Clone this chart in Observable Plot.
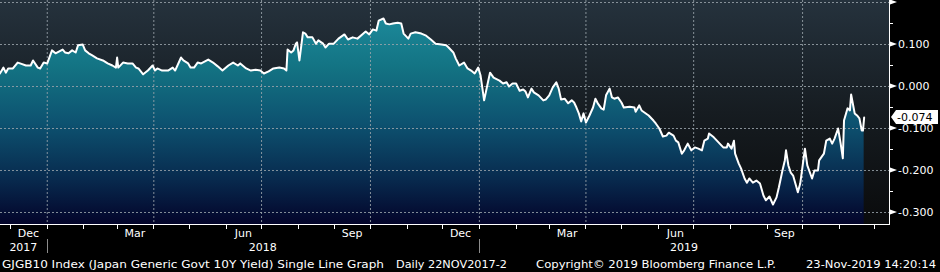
<!DOCTYPE html>
<html><head><meta charset="utf-8">
<script src="https://cdn.jsdelivr.net/npm/d3@7"></script>
<script src="https://cdn.jsdelivr.net/npm/@observablehq/plot@0.6"></script>
<style>
html,body{margin:0;padding:0;background:#000;}
#chart{width:940px;height:272px;position:relative;overflow:hidden;background:#000;}
#chart svg{display:block;}
</style></head>
<body><div id="chart"></div>
<script>
// ---- data ----
const dates = [
"2017-11-22","2017-11-25","2017-11-27","2017-11-29","2017-12-03","2017-12-07","2017-12-09","2017-12-14","2017-12-18","2017-12-20","2017-12-24","2017-12-26","2017-12-29",
"2018-01-01","2018-01-05","2018-01-08","2018-01-14","2018-01-16","2018-01-19","2018-01-22","2018-01-25","2018-01-27","2018-01-31",
"2018-02-02","2018-02-05","2018-02-08","2018-02-12","2018-02-17","2018-02-21","2018-02-25","2018-02-28",
"2018-03-01","2018-03-02","2018-03-06","2018-03-10","2018-03-14","2018-03-17","2018-03-19","2018-03-23","2018-03-27","2018-03-31",
"2018-04-02","2018-04-04","2018-04-08","2018-04-13","2018-04-17","2018-04-19","2018-04-24","2018-04-26","2018-04-30",
"2018-05-02","2018-05-05","2018-05-08","2018-05-11","2018-05-17","2018-05-21","2018-05-25","2018-05-29",
"2018-06-03","2018-06-07","2018-06-11","2018-06-13","2018-06-18","2018-06-22","2018-06-26","2018-06-30",
"2018-07-03","2018-07-07","2018-07-11","2018-07-16","2018-07-20","2018-07-22","2018-07-23","2018-07-26","2018-07-28","2018-07-30","2018-07-31",
"2018-08-02","2018-08-05","2018-08-07","2018-08-09","2018-08-13","2018-08-16","2018-08-18","2018-08-22","2018-08-24","2018-08-27","2018-08-31",
"2018-09-04","2018-09-09","2018-09-12","2018-09-16","2018-09-20","2018-09-25","2018-09-27","2018-09-30",
"2018-10-03","2018-10-06","2018-10-08","2018-10-12","2018-10-14","2018-10-17","2018-10-20","2018-10-24","2018-10-27","2018-10-29",
"2018-11-02","2018-11-04","2018-11-08","2018-11-13","2018-11-17","2018-11-21","2018-11-25","2018-11-30",
"2018-12-04","2018-12-06","2018-12-10","2018-12-12","2018-12-15","2018-12-19","2018-12-22","2018-12-25","2018-12-28","2018-12-31",
"2019-01-02","2019-01-05","2019-01-08","2019-01-10","2019-01-13","2019-01-18","2019-01-21","2019-01-24","2019-01-26","2019-01-29",
"2019-02-01","2019-02-04","2019-02-07","2019-02-09","2019-02-11","2019-02-14","2019-02-16","2019-02-20","2019-02-24","2019-02-26",
"2019-03-01","2019-03-04","2019-03-07","2019-03-09","2019-03-11","2019-03-14","2019-03-17","2019-03-20","2019-03-22","2019-03-24","2019-03-26","2019-03-28","2019-03-30",
"2019-04-01","2019-04-04","2019-04-07","2019-04-09","2019-04-11","2019-04-14","2019-04-16","2019-04-18","2019-04-21","2019-04-23","2019-04-25","2019-04-28",
"2019-05-01","2019-05-03","2019-05-08","2019-05-12","2019-05-13","2019-05-16","2019-05-18","2019-05-24","2019-05-28","2019-05-30",
"2019-06-02","2019-06-05","2019-06-08","2019-06-10","2019-06-14","2019-06-16","2019-06-18","2019-06-21","2019-06-23","2019-06-26","2019-06-29",
"2019-07-02","2019-07-05","2019-07-08","2019-07-10","2019-07-13","2019-07-14","2019-07-18","2019-07-22","2019-07-26","2019-07-29","2019-07-30",
"2019-08-02","2019-08-04","2019-08-05","2019-08-08","2019-08-10","2019-08-13","2019-08-15","2019-08-17","2019-08-20","2019-08-23","2019-08-26","2019-08-29","2019-08-31",
"2019-09-03","2019-09-06","2019-09-09","2019-09-11","2019-09-14","2019-09-16","2019-09-17","2019-09-19","2019-09-21","2019-09-23","2019-09-27","2019-09-29",
"2019-10-03","2019-10-05","2019-10-09","2019-10-11","2019-10-14","2019-10-15","2019-10-19","2019-10-21","2019-10-24","2019-10-26","2019-10-28","2019-10-31",
"2019-11-02","2019-11-04","2019-11-05","2019-11-08","2019-11-10","2019-11-11","2019-11-14","2019-11-16","2019-11-18","2019-11-20","2019-11-21","2019-11-22"
];
const yields = [
0.031,0.045,0.033,0.043,0.043,0.057,0.055,0.050,0.050,0.062,0.045,0.043,0.057,
0.055,0.086,0.079,0.088,0.081,0.079,0.086,0.081,0.098,0.100,
0.086,0.079,0.074,0.067,0.062,0.055,0.050,0.045,
0.069,0.045,0.057,0.055,0.055,0.045,0.043,0.029,0.038,0.050,
0.038,0.043,0.038,0.038,0.045,0.038,0.069,0.062,0.055,
0.045,0.045,0.057,0.055,0.064,0.057,0.048,0.038,
0.050,0.057,0.050,0.055,0.043,0.038,0.040,0.038,
0.031,0.036,0.043,0.045,0.043,0.038,0.088,0.081,0.086,0.102,0.105,
0.062,0.129,0.126,0.117,0.117,0.102,0.110,0.102,0.093,0.102,0.102,
0.114,0.124,0.112,0.117,0.114,0.126,0.131,0.124,
0.136,0.133,0.157,0.162,0.150,0.148,0.150,0.152,0.150,0.126,
0.114,0.126,0.129,0.126,0.121,0.112,0.102,0.100,
0.098,0.093,0.081,0.067,0.050,0.057,0.043,0.038,0.031,0.045,
0.026,-0.033,0.007,0.033,0.021,0.014,0.007,0.010,0.000,0.007,
0.007,-0.010,-0.007,-0.012,-0.026,-0.005,-0.014,-0.021,-0.033,-0.031,
-0.021,-0.002,0.010,-0.005,-0.031,-0.029,-0.040,-0.033,-0.038,-0.050,-0.064,-0.083,-0.064,
-0.086,-0.069,-0.050,-0.029,-0.040,-0.052,-0.055,-0.021,-0.005,-0.026,-0.029,-0.026,
-0.038,-0.050,-0.048,-0.050,-0.060,-0.045,-0.057,-0.069,-0.081,-0.088,
-0.100,-0.119,-0.117,-0.110,-0.117,-0.129,-0.133,-0.160,-0.152,-0.136,-0.152,
-0.145,-0.148,-0.152,-0.129,-0.124,-0.112,-0.121,-0.133,-0.145,-0.145,-0.136,
-0.148,-0.129,-0.160,-0.183,-0.195,-0.219,-0.229,-0.219,-0.229,-0.224,-0.231,-0.260,-0.271,
-0.262,-0.281,-0.264,-0.240,-0.200,-0.176,-0.152,-0.188,-0.205,-0.212,-0.252,-0.231,
-0.148,-0.188,-0.219,-0.200,-0.200,-0.176,-0.160,-0.129,-0.124,-0.136,-0.124,-0.100,
-0.133,-0.171,-0.081,-0.052,-0.057,-0.019,-0.064,-0.069,-0.076,-0.105,-0.105,-0.074
];
const monthLabels = ["Dec","Mar","Jun","Sep","Dec","Mar","Jun","Sep"];
const monthLabelStarts = ["2017-12-01","2018-03-01","2018-06-01","2018-09-01","2018-12-01","2019-03-01","2019-06-01","2019-09-01"];
const years = ["2017","2018","2019"];
const yTicks = [0.2,0.1,0,-0.1,-0.2,-0.3];
const yTickLabels = ["","0.100","0.000","-0.100","-0.200","-0.300"];
const yMinorTicks = [0.15,0.05,-0.05,-0.15,-0.25];
const lastLabel = "-0.074";
const captionTexts = ["GJGB10 Index (Japan Generic Govt 10Y Yield) Single Line Graph","Daily 22NOV2017-2","Copyright\u00A9 2019 Bloomberg Finance L.P.","23-Nov-2019 14:20:14"];

// ---- layout ----
const FONT = "DejaVu Sans, sans-serif";
const W = 940, H = 255;
const yDomain = [-0.3286, 0.2048];
const xDomain = [new Date("2017-11-22T12:00Z"), new Date("2019-12-13T10:00Z")];

const data = dates.map((d, i) => ({date: new Date(d + "T00:00Z"), value: yields[i]}));
const monthTicks = d3.utcMonth.range(new Date("2017-12-01T00:00Z"), new Date("2019-12-02T00:00Z"));
const gridDates = monthTicks.filter(d => d.getUTCMonth() % 3 === 0);

function defs() {
  const svg = d3.create("svg:defs");
  const bg = svg.append("linearGradient").attr("id","bgGrad").attr("gradientUnits","userSpaceOnUse")
    .attr("x1",0).attr("y1",0).attr("x2",0).attr("y2",224);
  bg.append("stop").attr("offset",0).attr("stop-color","#25323d");
  bg.append("stop").attr("offset",0.5).attr("stop-color","#161c21");
  bg.append("stop").attr("offset",1).attr("stop-color","#0a0b0c");
  const ar = svg.append("linearGradient").attr("id","areaGrad").attr("gradientUnits","userSpaceOnUse")
    .attr("x1",0).attr("y1",0).attr("x2",0).attr("y2",224);
  ar.append("stop").attr("offset",0.05).attr("stop-color","#1d8c9d");
  ar.append("stop").attr("offset",0.3).attr("stop-color","#137383");
  ar.append("stop").attr("offset",0.55).attr("stop-color","#0d5270");
  ar.append("stop").attr("offset",0.8).attr("stop-color","#082a4e");
  ar.append("stop").attr("offset",1).attr("stop-color","#03042a");
  return svg.node();
}

function background(index, scales, values, dims) {
  const L = dims.marginLeft, R = dims.width - dims.marginRight, B = dims.height - dims.marginBottom, T = dims.marginTop;
  return d3.create("svg:rect").attr("x",L).attr("y",T).attr("width",R-L).attr("height",B-T).attr("fill","url(#bgGrad)").node();
}

function decorations(index, scales, values, dims) {
  const x = scales.x, y = scales.y;
  const L = dims.marginLeft, R = dims.width - dims.marginRight, B = dims.height - dims.marginBottom, T = dims.marginTop;
  const g = d3.create("svg:g").attr("font-family", FONT).attr("font-size", 11).attr("text-anchor", "start");
  // axes lines
  g.append("line").attr("x1",L).attr("x2",R+1).attr("y1",B+0.5).attr("y2",B+0.5).attr("stroke","#fff");
  g.append("line").attr("x1",R+0.5).attr("x2",R+0.5).attr("y1",T).attr("y2",B+1).attr("stroke","#fff");
  // month ticks
  for (const m of monthTicks) {
    const px = Math.round(x(m)) + 0.5;
    g.append("line").attr("x1",px).attr("x2",px).attr("y1",B).attr("y2",B+5).attr("stroke","#fff");
  }
  // month labels, centred in their month
  monthLabelStarts.forEach((s, i) => {
    const a = new Date(s + "T00:00Z"), b = d3.utcMonth.offset(a, 1);
    g.append("text").attr("x",(x(a)+x(b))/2).attr("y",B+12.5).attr("text-anchor","middle")
      .attr("fill","#fff").text(monthLabels[i]);
  });
  // year labels, centred in the visible part of their year
  years.forEach((yr) => {
    const a = new Date(yr + "-01-01T00:00Z"), b = new Date((+yr+1) + "-01-01T00:00Z");
    const x0 = Math.max(x(a), L), x1 = Math.min(x(b), R);
    g.append("text").attr("x",(x0+x1)/2).attr("y",B+27).attr("text-anchor","middle")
      .attr("fill","#fff").text(yr);
    if (x(a) > L) {
      const px = Math.round(x(a)) + 0.5;
      g.append("line").attr("x1",px).attr("x2",px).attr("y1",B+15).attr("y2",B+29).attr("stroke","#8c8c8c");
    }
  });
  // right axis: major ticks with triangles + labels
  yTicks.forEach((v, i) => {
    const py = y(v);
    g.append("path").attr("d",`M${R+1},${py-2.5}L${R+8},${py}L${R+1},${py+2.5}Z`).attr("fill","#fff");
    if (yTickLabels[i]) g.append("text").attr("x",R+9).attr("y",py+4).attr("text-anchor","start")
      .attr("fill","#fff").text(yTickLabels[i]);
  });
  yMinorTicks.forEach(v => {
    const py = Math.round(y(v)) + 0.5;
    g.append("line").attr("x1",R).attr("x2",R+4).attr("y1",py).attr("y2",py).attr("stroke","#fff");
  });
  // last value box
  const lv = yields[yields.length - 1], py = y(lv);
  g.append("path").attr("d",`M${R+2},${py}L${R+7},${py-7}L${R+49},${py-7}L${R+49},${py+7}L${R+7},${py+7}Z`).attr("fill","#fff");
  g.append("text").attr("x",R+8).attr("y",py+4).attr("text-anchor","start").attr("fill","#000").text(lastLabel);
  return g.node();
}

const plot = Plot.plot({
  width: W, height: H,
  marginTop: 0, marginLeft: 0, marginRight: 51, marginBottom: H - 224,
  style: {background: "#000", overflow: "visible"},
  x: {type: "utc", domain: xDomain, axis: null},
  y: {domain: yDomain, axis: null},
  marks: [
    defs,
    background,
    Plot.areaY(data, {x: "date", y1: () => yDomain[0], y2: "value", fill: "url(#areaGrad)", clip: true}),
    Plot.ruleY(yTicks, {stroke: "#9aa3aa", strokeOpacity: 0.85, strokeDasharray: "2,2", strokeWidth: 1}),
    Plot.ruleX(gridDates, {stroke: "#9aa3aa", strokeOpacity: 0.85, strokeDasharray: "2,2", strokeWidth: 1}),
    Plot.lineY(data, {x: "date", y: "value", stroke: "#fff", strokeWidth: 2, clip: true}),
    decorations
  ]
});
document.getElementById("chart").appendChild(plot);

// caption row below the chart
const cap = d3.create("svg").attr("width", W).attr("height", 17)
  .attr("font-family", FONT).attr("font-size", 11).attr("fill", "#fff");
const capX = [2, 396, 536, 806], capW = [382, 111, 240, 130];
captionTexts.forEach((t, i) => {
  cap.append("text").attr("x", capX[i]).attr("y", 13).attr("textLength", capW[i])
    .attr("lengthAdjust", "spacingAndGlyphs").text(t);
});
document.getElementById("chart").appendChild(cap.node());
</script>
</body></html>
